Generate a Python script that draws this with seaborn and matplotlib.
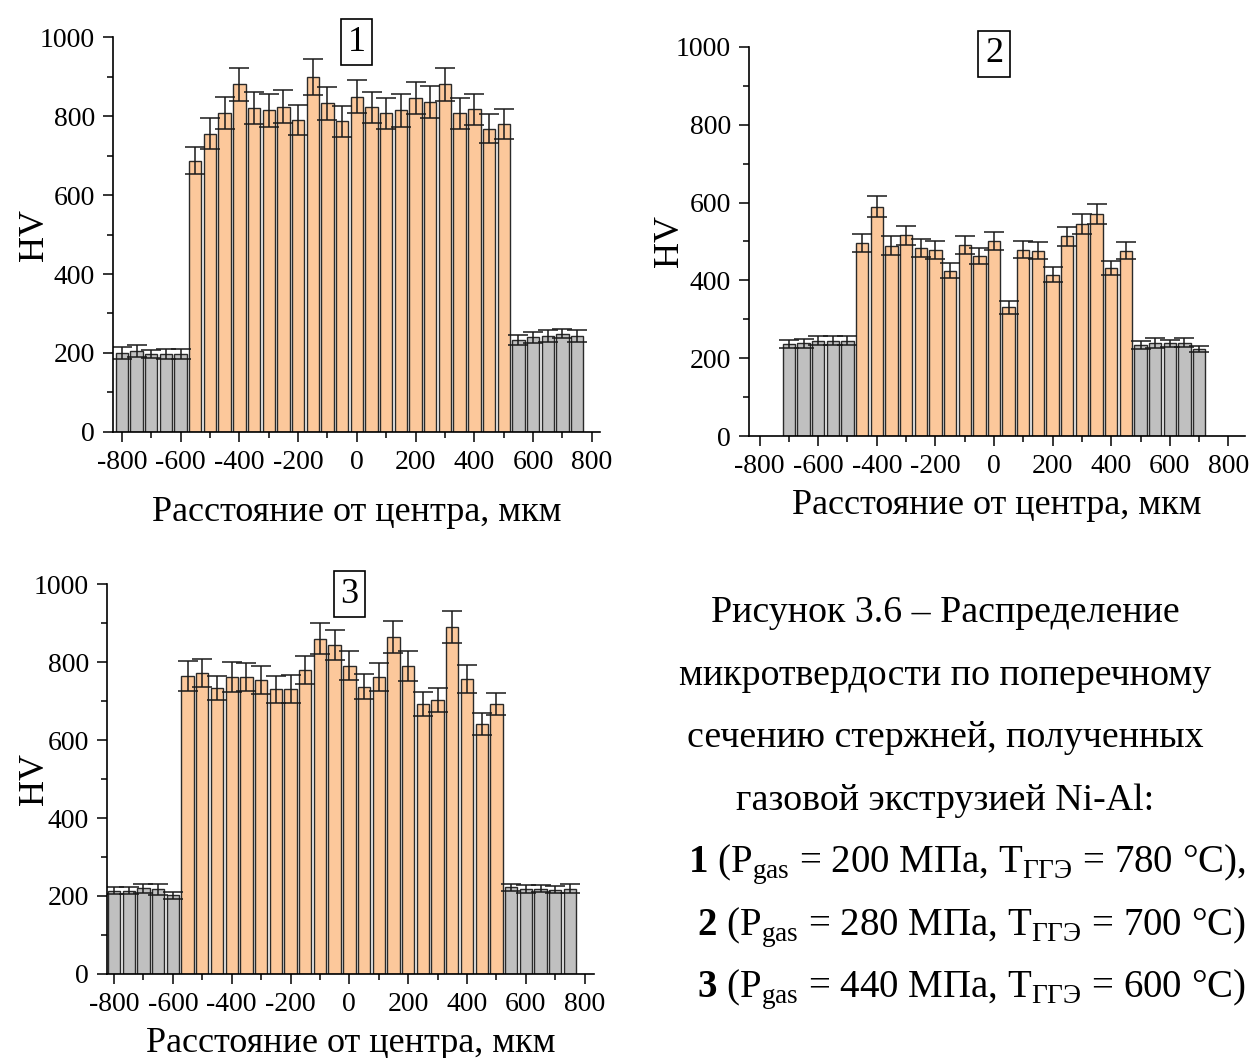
import pandas as pd
import seaborn as sns
import matplotlib.pyplot as plt
from matplotlib.ticker import MultipleLocator

# ---- data (HV vs distance from centre, um) ----
x1 = list(range(-800, 751, 50))
hv1 = [200, 204, 198, 198, 198,
       687, 755, 808, 880, 821, 814, 824, 790, 898, 832, 787,
       849, 822, 807, 814, 846, 836, 880, 807, 817, 768, 780,
       233, 240, 242, 249, 243]
err1 = [14, 15, 10, 12, 12,
        34, 39, 40, 42, 41, 41, 41, 39, 46, 41, 39,
        41, 39, 39, 41, 41, 41, 42, 39, 40, 37, 39,
        12, 14, 15, 12, 15]
zone1 = ["edge"] * 5 + ["core"] * 22 + ["edge"] * 5

x2 = list(range(-700, 701, 50))
hv2 = [236, 238, 245, 245, 245,
       496, 589, 489, 516, 484, 478, 425, 491, 462, 501, 331,
       479, 476, 415, 513, 545, 570, 432, 476,
       233, 240, 238, 240, 223]
err2 = [11, 11, 12, 12, 12,
        24, 27, 24, 24, 23, 22, 20, 24, 21, 24, 17,
        22, 22, 19, 24, 26, 26, 19, 22,
        10, 13, 10, 12, 8]
zone2 = ["edge"] * 5 + ["core"] * 19 + ["edge"] * 5

x3 = list(range(-800, 751, 50))
hv3 = [214, 214, 220, 217, 202,
       764, 773, 733, 762, 762, 754, 730, 730, 779, 860, 843,
       791, 737, 762, 865, 790, 692, 703, 891, 757, 641, 692,
       222, 218, 218, 216, 219]
err3 = [10, 10, 12, 14, 9,
        38, 36, 31, 38, 36, 36, 34, 36, 36, 39, 38,
        38, 32, 36, 41, 38, 31, 31, 41, 36, 29, 29,
        10, 10, 9, 9, 12]
zone3 = ["edge"] * 5 + ["core"] * 22 + ["edge"] * 5

caption = ["Рисунок 3.6 – Распределение",
           "микротвердости по поперечному",
           "сечению стержней, полученных",
           "газовой экструзией Ni-Al:"]
conditions = [r"$\mathbf{1}$ (P$_\mathrm{gas}$ = 200 МПа, T$_\mathrm{ГГЭ}$ = 780 °C),",
              r"$\mathbf{2}$ (P$_\mathrm{gas}$ = 280 МПа, T$_\mathrm{ГГЭ}$ = 700 °C)",
              r"$\mathbf{3}$ (P$_\mathrm{gas}$ = 440 МПа, T$_\mathrm{ГГЭ}$ = 600 °C)"]

sns.set_style("ticks")
plt.rcParams["font.family"] = ["Liberation Serif", "DejaVu Serif"]
plt.rcParams["mathtext.fontset"] = "custom"
plt.rcParams["mathtext.rm"] = "Liberation Serif"
plt.rcParams["mathtext.bf"] = "Liberation Serif:bold"
plt.rcParams["axes.unicode_minus"] = False
for k in ("text.color", "axes.labelcolor", "xtick.color", "ytick.color"):
    plt.rcParams[k] = "black"

palette = {"edge": "#C0C0C0", "core": "#FCC89B"}

fig = plt.figure(figsize=(12.53, 10.58), dpi=100)

# name, x, hv, err, zone, axes rect, xlim, box y, xlabel y, ylabel x
panels = [
    ("1", x1, hv1, err1, zone1, [0.0902, 0.5917, 0.3887, 0.3733], (-830, 828), 987, -0.163, -0.128),
    ("2", x2, hv2, err2, zone2, [0.5978, 0.5879, 0.3959, 0.3677], (-836, 857), 983, -0.135, -0.127),
    ("3", x3, hv3, err3, zone3, [0.0854, 0.0794, 0.3887, 0.3686], (-824, 832), 974, -0.135, -0.115),
]

for name, xs, hv, err, zone, pos, xlim, boxy, xly, ylx in panels:
    df = pd.DataFrame({"x": xs, "hv": hv, "err": err, "zone": zone})
    ax = fig.add_axes(pos)
    sns.barplot(data=df, x="x", y="hv", hue="zone", palette=palette,
                native_scale=True, width=0.84, saturation=1,
                edgecolor="#2a2a2a", linewidth=1.0, errorbar=None,
                legend=False, ax=ax)
    ax.errorbar(df["x"], df["hv"], yerr=df["err"], fmt="none",
                ecolor="#1a1a1a", elinewidth=1.1, capsize=7.5, capthick=1.1)
    ax.set_xlim(*xlim)
    ax.set_ylim(0, 1000)
    ax.xaxis.set_major_locator(MultipleLocator(200))
    ax.xaxis.set_minor_locator(MultipleLocator(100))
    ax.yaxis.set_major_locator(MultipleLocator(200))
    ax.yaxis.set_minor_locator(MultipleLocator(100))
    ax.tick_params(which="major", length=7, width=1.1, labelsize=20, pad=6)
    ax.tick_params(which="minor", length=4, width=1.1)
    sns.despine(ax=ax)
    for s in ("left", "bottom"):
        ax.spines[s].set_linewidth(1.2)
        ax.spines[s].set_color("black")
    ax.set_xlabel("Расстояние от центра, мкм", fontsize=26)
    ax.set_ylabel("HV", fontsize=26)
    ax.xaxis.set_label_coords(0.5, xly)
    ax.yaxis.set_label_coords(ylx, 0.5)
    ax.text(0, boxy, name, ha="center", va="center", fontsize=26, clip_on=False,
            bbox=dict(boxstyle="square,pad=0.18", fc="white", ec="black", lw=1.2))

W, H = 1253, 1058
cap_y = [613, 676, 738, 801]
for line, yy in zip(caption, cap_y):
    fig.text(945 / W, 1 - yy / H, line, ha="center", va="center", fontsize=27.3)
cond_x = [688, 697, 697]
cond_y = [864, 927, 989]
for line, xx, yy in zip(conditions, cond_x, cond_y):
    fig.text(xx / W, 1 - yy / H, line, ha="left", va="center", fontsize=28)

fig.savefig("out.png", dpi=100, facecolor="white")
